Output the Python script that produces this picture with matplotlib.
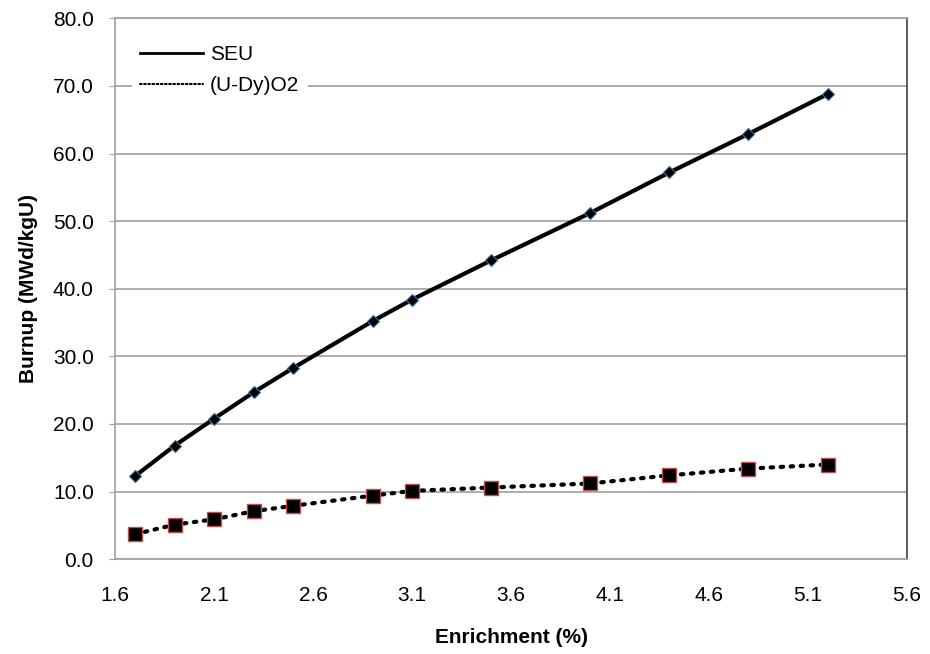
import numpy as np
import matplotlib
matplotlib.use("Agg")
import matplotlib.pyplot as plt

plt.rcParams['font.family'] = ['Liberation Sans', 'DejaVu Sans']

# data
enrich = [1.7, 1.9, 2.1, 2.3, 2.5, 2.9, 3.1, 3.5, 4.0, 4.4, 4.8, 5.2]
seu = [12.3, 16.8, 20.8, 24.7, 28.3, 35.2, 38.4, 44.2, 51.2, 57.2, 62.9, 68.8]
udy = [3.7, 5.1, 5.9, 7.1, 7.9, 9.4, 10.1, 10.6, 11.2, 12.4, 13.4, 14.0]
xticks = [1.6, 2.1, 2.6, 3.1, 3.6, 4.1, 4.6, 5.1, 5.6]
yticks = [0, 10, 20, 30, 40, 50, 60, 70, 80]

fig = plt.figure(figsize=(9.3, 6.54), dpi=100)
ax = fig.add_axes([0.124, 0.145, 0.851, 0.827])

ax.plot(enrich, seu, color="black", lw=3, marker="D", ms=6,
        markerfacecolor="black", markeredgecolor="#3a6ea5", markeredgewidth=0.8,
        label="SEU", zorder=3)
ax.plot(enrich, udy, color="black", lw=3, linestyle=(0, (0.6, 1.8)),
        dash_capstyle="round", marker="s", ms=10,
        markerfacecolor="black", markeredgecolor="#c0504d", markeredgewidth=1.0,
        label="(U-Dy)O2", zorder=3)

ax.set_xlim(1.6, 5.6)
ax.set_ylim(0, 80)
ax.set_xticks(xticks)
ax.set_xticklabels(["%.1f" % v for v in xticks])
ax.set_yticks(yticks)
ax.set_yticklabels(["%.1f" % v for v in yticks])
ax.yaxis.grid(True, color="#a0a0a0", lw=1.2)
ax.set_axisbelow(True)

ax.tick_params(axis="x", length=0, pad=19, labelsize=15)
ax.tick_params(axis="y", length=4.5, color="#a0a0a0", pad=11, labelsize=15)

for s in ["left", "bottom", "top"]:
    ax.spines[s].set_color("#a0a0a0")
    ax.spines[s].set_linewidth(1.2)
ax.spines["right"].set_color("#404040")
ax.spines["right"].set_linewidth(1.2)

ax.set_xlabel("Enrichment (%)", fontweight="bold", fontsize=15, labelpad=17)
ax.set_ylabel("Burnup (MWd/kgU)", fontweight="bold", fontsize=15, labelpad=11)

leg = ax.legend(loc="upper left", bbox_to_anchor=(0.0, 0.997), frameon=True,
                fontsize=15, handlelength=3.0, handletextpad=0.35,
                borderaxespad=0.8, labelspacing=0.6)
leg.get_frame().set_edgecolor("none")
leg.get_frame().set_facecolor("white")
leg.get_frame().set_alpha(1)
for h in leg.get_lines():
    h.set_marker("")
    h.set_linewidth(2)
leg.get_lines()[1].set_linewidth(1.5)
leg.get_lines()[1].set_linestyle((0, (0.8, 1.2)))

fig.savefig("out.png", dpi=100, facecolor="white")
